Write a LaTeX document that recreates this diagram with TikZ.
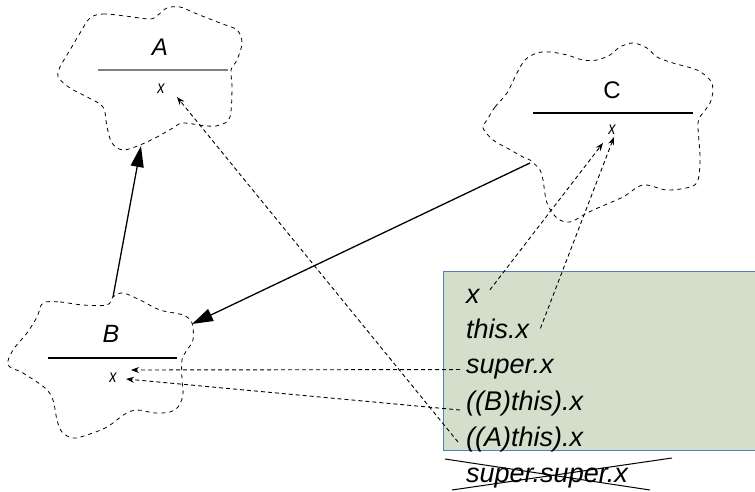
\documentclass[tikz,border=0pt]{standalone}
\usepackage{fontspec}
\setmainfont{Liberation Sans}
\usetikzlibrary{arrows.meta}
\definecolor{boxfill}{HTML}{D3DFCA}
\definecolor{boxedge}{HTML}{4F81BD}
\begin{document}
\begin{tikzpicture}[x=1pt,y=-1pt,
  cloud/.style={draw, dash pattern=on 4pt off 4pt, line width=0.8pt},
  solidarrow/.style={line width=1.3pt, -{Triangle[length=21pt,width=13pt]}},
  refarrow/.style={line width=0.9pt, dash pattern=on 4pt off 3pt, -{Stealth[length=8pt,width=6pt]}},
  code/.style={anchor=base west, inner sep=0pt, font=\fontsize{27}{32}\selectfont\itshape},
  cname/.style={inner sep=0pt, font=\fontsize{24}{28}\selectfont},
  attr/.style={inner sep=0pt, xscale=0.8, font=\fontsize{18}{20}\selectfont\itshape}]
\useasboundingbox (0,0) rectangle (755,492);

% clouds
\draw[cloud] plot[smooth cycle, tension=0.55] coordinates {(90,18) (103,14) (125,16) (150,19) (158,15) (167,8) (180,7) (197,14) (220,23) (237,30) (242,43) (237,60) (231,70) (232,87) (230,117) (220,125) (207,126) (183,123) (173,128) (157,137) (140,145) (123,150) (112,143) (107,127) (103,107) (87,97) (70,88) (58,77) (60,67) (70,50) (80,33)};
\draw[cloud] plot[smooth cycle, tension=0.55] coordinates {(43,303) (60,302) (83,305) (107,305) (113,297) (123,293) (140,300) (160,310) (183,315) (192,323) (193,340) (187,350) (182,360) (182,380) (183,395) (178,407) (170,412) (155,413) (137,410) (125,414) (107,427) (87,435) (73,438) (62,432) (57,420) (53,400) (45,388) (23,373) (8,365) (13,350) (27,333) (37,317)};
\draw[cloud] plot[smooth cycle, tension=0.55] coordinates {(487,120) (495,107) (507,93) (517,73) (525,60) (537,53) (550,52) (567,55) (583,60) (597,60) (610,55) (620,47) (633,43) (647,48) (657,57) (673,63) (697,70) (710,80) (713,90) (710,103) (703,113) (698,123) (700,157) (698,180) (690,187) (667,190) (643,185) (623,197) (600,207) (587,213) (570,222) (557,218) (547,203) (543,180) (540,170) (530,160) (523,157) (507,148) (493,140) (483,128)};

% class contents
\node[cname, font=\fontsize{24}{28}\selectfont\itshape] (A) at (160,47) {A};
\draw[line width=1.5pt, gray] (98,70) -- (228,70);
\node[attr] (Ax) at (161,89) {x};

\node[cname, font=\fontsize{25}{30}\selectfont\itshape] (B) at (111,334) {B};
\draw[line width=1.8pt] (48,358) -- (177,358);
\node[attr] (Bx) at (113,378) {x};

\node[cname] (C) at (612,90) {C};
\draw[line width=1.4pt] (533,113) -- (693,113);
\node[attr] (Cx) at (612,130) {x};

% code box
\fill[boxfill] (443,271) rectangle (760,450);
\draw[boxedge, line width=1pt] (760,271) -- (443,271) -- (443,450) -- (760,450);

\node[code] (t1) at (466,303) {x};
\node[code] (t2) at (466,338) {this.x};
\node[code] (t3) at (466,373) {super.x};
\node[code] (t4) at (466,410) {((B)this).x};
\node[code] (t5) at (466,446) {((A)this).x};
\node[code] (t6) at (466,482) {super.super.x};
\draw[line width=1pt] (445,459) -- (650,490);
\draw[line width=1pt] (452,490) -- (672,458);

% solid associations
\coordinate (Btop) at (113,297);
\coordinate (Abottom) at (141,146);
\coordinate (Cleft) at (530,163);
\coordinate (Bright) at (192,324);
\draw[solidarrow] (Btop) -- (Abottom);
\draw[solidarrow] (Cleft) -- (Bright);

% references
\draw[refarrow] ([shift={(10,-6)}]t1.east) -- ([shift={(-9,13)}]Cx.center);
\draw[refarrow] ([shift={(11,0)}]t2.east) -- ([shift={(2,7)}]Cx.center);
\draw[refarrow] ([shift={(-6,1)}]t3.west) -- ([shift={(18,-8)}]Bx.center);
\draw[refarrow] ([shift={(-6,7)}]t4.west) -- ([shift={(13,1)}]Bx.center);
\draw[refarrow] ([shift={(-8,3)}]t5.west) -- ([shift={(16,8)}]Ax.center);
\end{tikzpicture}
\end{document}
